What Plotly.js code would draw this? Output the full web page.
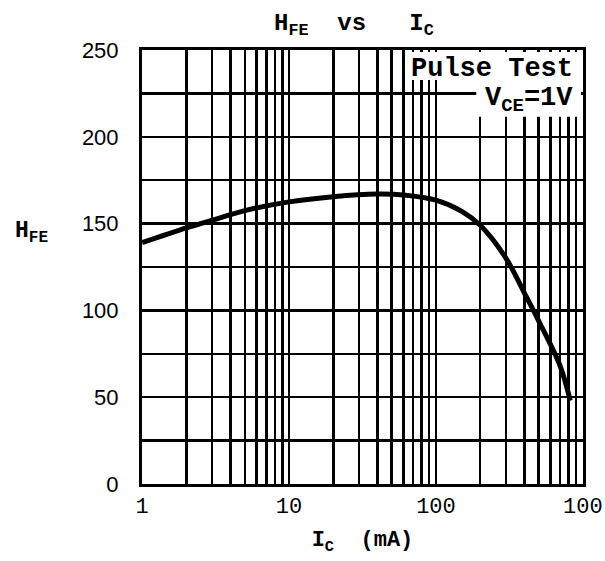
<!DOCTYPE html>
<html>
<head>
<meta charset="utf-8">
<script src="https://cdn.plot.ly/plotly-3.0.1.min.js"></script>
<style>html,body{margin:0;padding:0;background:#fff;}#chart{width:605px;height:561px;}</style>
</head>
<body>
<div id="chart"></div>
<script>
// Collector current Ic (mA) and DC current gain hFE
const icValues  = [1, 2, 3, 5, 10, 20, 40, 60, 100, 150, 200, 300, 400, 500, 700, 820];
const hfeValues = [139, 147.5, 152, 157.5, 162.5, 165.5, 167, 166.5, 163.5, 157, 149, 130, 110, 94, 68, 48];

// Grid / tick positions
const xGridVals = [1,2,3,4,5,6,7,8,9,10,20,30,40,50,60,70,80,90,100,200,300,400,500,600,700,800,900,1000];
const xTickLabels = {1:"1", 10:"10", 100:"100", 1000:"100"};
const yGridVals = [0,25,50,75,100,125,150,175,200,225,250];
const yTickLabels = {0:"0", 50:"50", 100:"100", 150:"150", 200:"200", 250:"250"};

const trace = {
  x: icValues, y: hfeValues, type: 'scatter', mode: 'lines',
  line: {color: '#000', width: 5, shape: 'spline', smoothing: 1.0},
  hoverinfo: 'skip'
};

const mono = 'Liberation Mono, Courier New, monospace';
const sp = '&nbsp;';
const layout = {
  width: 605, height: 561,
  margin: {l: 142, r: 22, t: 50, b: 77},
  paper_bgcolor: '#fff', plot_bgcolor: '#fff',
  showlegend: false,
  title: {text: '<b>H<sub>FE</sub>' + sp + sp + 'vs' + sp + sp + sp + 'I<sub>C</sub></b>',
          x: 0.585, xanchor: 'center', y: 0.962, yanchor: 'middle',
          font: {family: mono, size: 24, color: '#000'}},
  xaxis: {
    type: 'log', range: [-0.001, 3.001],
    tickmode: 'array', tickvals: xGridVals,
    ticktext: xGridVals.map(v => xTickLabels[v] || ''),
    ticklabeloverflow: 'allow',
    showgrid: true, gridcolor: '#000', gridwidth: 2.5,
    showline: true, linecolor: '#000', linewidth: 3, mirror: true,
    ticks: '', zeroline: false,
    tickfont: {family: mono, size: 22, color: '#000'},
    title: {text: '<b>I<sub>C</sub>' + sp + sp + '(mA)</b>', font: {family: mono, size: 22, color: '#000'}, standoff: 12}
  },
  yaxis: {
    range: [0, 250],
    tickmode: 'array', tickvals: yGridVals,
    ticktext: yGridVals.map(v => yTickLabels[v] || ''),
    showgrid: true, gridcolor: '#000', gridwidth: 2.5,
    showline: true, linecolor: '#000', linewidth: 3, mirror: true,
    ticks: '', zeroline: false, ticklabelstandoff: 16,
    tickfont: {family: 'Liberation Sans, Arial, sans-serif', size: 22, color: '#000'}
  },
  shapes: [
    {type: 'rect', xref: 'paper', yref: 'paper', x0: 0.598, x1: 0.9955, y0: 0.931, y1: 0.9955,
     fillcolor: '#fff', line: {width: 0}, layer: 'above'},
    {type: 'rect', xref: 'paper', yref: 'paper', x0: 0.758, x1: 0.9955, y0: 0.846, y1: 0.932,
     fillcolor: '#fff', line: {width: 0}, layer: 'above'}
  ],
  annotations: [
    {text: '<b>H<sub>FE</sub></b>', xref: 'paper', yref: 'paper', x: -0.293, y: 0.58, xanchor: 'left', yanchor: 'middle',
     showarrow: false, font: {family: mono, size: 23, color: '#000'}},
    {text: '<b>Pulse Test</b>', xref: 'paper', yref: 'paper', x: 0.982, y: 0.956, xanchor: 'right', yanchor: 'middle',
     showarrow: false, font: {family: mono, size: 27, color: '#000'}},
    {text: '<b>V<sub>CE</sub>=1V</b>', xref: 'paper', yref: 'paper', x: 0.982, y: 0.885, xanchor: 'right', yanchor: 'middle',
     showarrow: false, font: {family: mono, size: 27, color: '#000'}}
  ]
};

Plotly.newPlot('chart', [trace], layout, {staticPlot: true, displayModeBar: false});
</script>
</body>
</html>
